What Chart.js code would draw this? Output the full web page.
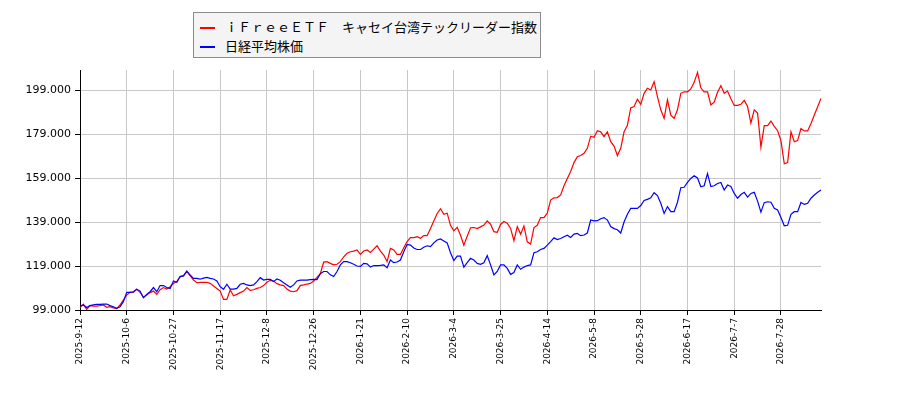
<!DOCTYPE html>
<html>
<head>
<meta charset="utf-8">
<script src="https://cdn.jsdelivr.net/npm/chart.js@4"></script>
<style>
  body { margin: 0; background: #fff; }
  #wrap { position: relative; width: 900px; height: 400px; }
  #legend {
    position: absolute; left: 193px; top: 12px; width: 346px; height: 44px;
    border: 1px solid #8c8c8c; background: #f4f4f4;
    font-family: "Noto Sans CJK JP", sans-serif; font-size: 13px; color: #000;
  }
  .row { position: absolute; left: 6px; height: 18px; line-height: 18px; white-space: nowrap; }
  .row .swatch { display: inline-block; width: 15px; border-top: 2px solid; vertical-align: middle; margin-right: 10px; }
</style>
</head>
<body>
<div id="wrap">
  <canvas id="chart" width="900" height="400"></canvas>
  <div id="legend"></div>
</div>
<script>
// Series names
const seriesNames = ['ｉＦｒｅｅＥＴＦ　キャセイ台湾テックリーダー指数', '日経平均株価'];

// First trading day and market holidays (categories are trading days)
const startDate = '2025-09-12';
const holidays = ['2025-09-15', '2025-09-23', '2025-10-13', '2025-11-03', '2025-11-24',
  '2025-12-31', '2026-01-01', '2026-01-02', '2026-01-12', '2026-02-11', '2026-02-23',
  '2026-03-20', '2026-04-29', '2026-05-04', '2026-05-05', '2026-05-06', '2026-07-20', '2026-08-11'];

// Dates that carry a tick label
const tickDates = ['2025-9-12', '2025-10-6', '2025-10-27', '2025-11-17', '2025-12-8', '2025-12-26',
  '2026-1-21', '2026-2-10', '2026-3-4', '2026-3-25', '2026-4-14', '2026-5-8', '2026-5-28',
  '2026-6-17', '2026-7-7', '2026-7-28'];

// Y axis ticks
const yTicks = [99, 119, 139, 159, 179, 199];

// iFreeETF series
const etfValues = [
  100.1, 101.6, 99.3, 101, 100.8, 100.8, 101, 101.3, 100.2, 100.5,
  100, 99.6, 101.3, 103.5, 105.8, 107, 107, 108.4, 107, 104.8,
  105.8, 106.9, 107.6, 106.1, 108.2, 109.2, 108.5, 109.6, 111.1, 111.9,
  114.2, 114.6, 116.4, 114.6, 112.6, 111.4, 111.6, 111.6, 111.6, 111.1,
  109.9, 108.8, 107.6, 103.8, 103.8, 108.1, 105.5, 106.1, 106.9, 107.6,
  109.2, 107.9, 108.2, 108.8, 109.2, 110.1, 111.6, 112.5, 112.2, 111,
  110.4, 110.1, 108.5, 107.6, 107.3, 107.8, 110.1, 110.4, 110.8, 111.1,
  112.2, 113.8, 115.5, 120.8, 121, 120.2, 119.5, 119.8, 121, 123.2,
  124.8, 125.5, 125.8, 126.3, 124.3, 125.8, 126.3, 125.2, 126.7, 128.2,
  125.8, 124, 121, 127, 126.3, 124.3, 124.3, 127.3, 130.1, 131.9,
  131.9, 132.3, 131.6, 132.8, 132.8, 136.1, 139.5, 142.9, 145, 142.5,
  143, 137.5, 135, 136.6, 133, 128.5, 132.5, 136.4, 136.5, 136,
  136.8, 137.6, 139.5, 138, 134.6, 134.3, 137.9, 139.2, 138.5, 136.1,
  130.5, 136.9, 133.5, 137.2, 130, 129, 136.5, 137.5, 141, 141,
  143, 149, 150, 150.1, 151.3, 155.5, 158.8, 162, 166, 168.7,
  169.2, 170.2, 172.5, 178, 177.5, 180.5, 180, 177.8, 180, 175.5,
  173.5, 169.2, 172.5, 180, 183, 190.9, 191.5, 194.8, 192.5, 197.5,
  199.8, 199, 202.8, 196, 190, 186.1, 194.5, 187.6, 186.1, 190,
  197.5, 198.2, 198.2, 199.5, 202.5, 207, 200, 198.2, 198.2, 192.2,
  193.5, 198, 201, 197.5, 198.5, 195, 192, 192, 192.5, 194.3,
  191.5, 184, 190, 188.5, 173, 182.8, 182.8, 184.9, 182.5, 180.5,
  176, 165.5, 166, 180, 175.5, 176, 181.5, 180.4, 180.4, 183.8,
  187.6, 191.4, 195.2
];

// Nikkei 225 series
const nikkeiValues = [
  100.8, 101.3, 100.1, 101, 101.3, 101.6, 101.6, 101.7, 101.7, 101,
  100.5, 99.8, 100.5, 102.8, 107, 107, 107.3, 108.5, 107.6, 104.6,
  106.1, 107.3, 109.2, 107.3, 110.1, 110.1, 109.2, 108.8, 112.2, 111.6,
  114.2, 114.5, 116.7, 114.9, 113.4, 113.4, 113, 113.5, 113.8, 113.4,
  113.1, 112.2, 109.6, 108.4, 110.7, 108.5, 108.5, 108.8, 110.7, 111.1,
  110.4, 110.1, 110.4, 111.9, 113.7, 112.6, 112.9, 112.9, 111.9, 113.1,
  112.5, 111.4, 110.4, 109.3, 110.4, 112.2, 112.6, 112.6, 112.6, 112.8,
  112.9, 112.8, 115.5, 116.5, 116.5, 115, 114.2, 116.5, 119.5, 121,
  121, 120.5, 119.8, 119, 118.8, 120.2, 120, 118.5, 119.2, 119.2,
  119.3, 119.5, 118.2, 121.7, 120.5, 120.8, 121.7, 125.5, 128.8, 128.5,
  127.2, 126.5, 126.5, 127.5, 128.2, 127.8, 129.5, 130.8, 131.3, 130.4,
  129.5, 125, 121.5, 123.5, 123.5, 118.5, 120.5, 122.5, 121.7, 120.2,
  119.8, 120.5, 123.7, 119.5, 115, 116.5, 119.5, 119.5, 117.9, 115.2,
  116, 119.5, 117.5, 118.5, 119.2, 119.5, 125, 125.5, 126.5, 127,
  128.5, 130.1, 131.8, 131, 131.5, 132.3, 133, 132, 133.5, 133.8,
  132.8, 133.1, 134, 139.9, 139.5, 139.6, 140.5, 141, 139.9, 136.9,
  136, 135.5, 134, 139, 142.5, 145.2, 145.2, 145.2, 146.5, 148.8,
  149.3, 150, 152.3, 151, 147.5, 142.9, 146, 143.7, 143.7, 148,
  154.6, 154.8, 157, 158.8, 160, 159, 155, 155.5, 161, 155.1,
  155.5, 156.5, 157, 153.5, 155.8, 155.2, 152, 149.8, 151.5, 152.5,
  150.3, 152, 152.5, 148.5, 143.5, 147.8, 148.2, 148, 145.2, 144.5,
  141, 137.3, 137.5, 142.5, 143.7, 143.7, 147.9, 147, 147.5, 149.8,
  151.3, 152.5, 153.5
];

const seriesColors = ['#ff0000', '#0000ff'];

// Build trading-day labels (weekdays minus holidays)
function pad(n) {
  return n < 10 ? '0' + n : '' + n;
}

function buildDates(count) {
  const out = [];
  const d = new Date(startDate + 'T00:00:00');
  while (out.length < count) {
    const key = d.getFullYear() + '-' + pad(d.getMonth() + 1) + '-' + pad(d.getDate());
    const wd = d.getDay();
    if (wd !== 0 && wd !== 6 && !holidays.includes(key)) {
      out.push(d.getFullYear() + '-' + (d.getMonth() + 1) + '-' + d.getDate());
    }
    d.setDate(d.getDate() + 1);
  }
  return out;
}

const dates = buildDates(etfValues.length);

// Legend box
const legendEl = document.getElementById('legend');
seriesNames.forEach((name, i) => {
  const row = document.createElement('div');
  row.className = 'row';
  row.style.top = (i === 0 ? 5 : 24) + 'px';
  row.innerHTML = `<span class="swatch" style="border-color:${seriesColors[i]}"></span>${name}`;
  legendEl.appendChild(row);
});

const ctx = document.getElementById('chart').getContext('2d');
new Chart(ctx, {
  type: 'line',
  data: {
    labels: dates,
    datasets: [
      {
        label: seriesNames[0],
        data: etfValues,
        borderColor: seriesColors[0],
        borderWidth: 1.2,
        pointRadius: 0,
        tension: 0,
        order: 1
      },
      {
        label: seriesNames[1],
        data: nikkeiValues,
        borderColor: seriesColors[1],
        borderWidth: 1.2,
        pointRadius: 0,
        tension: 0,
        order: 0
      }
    ]
  },
  options: {
    responsive: false,
    animation: false,
    devicePixelRatio: 1,
    layout: { padding: { top: 70, right: 79, left: 0, bottom: 0 } },
    plugins: {
      legend: { display: false },
      tooltip: { enabled: false }
    },
    scales: {
      x: {
        type: 'category',
        offset: false,
        afterBuildTicks: scale => {
          scale.ticks = scale.ticks.filter(t => tickDates.includes(dates[t.value]));
        },
        afterFit: scale => { scale.height = 90; },
        grid: { color: '#c8c8c8', tickColor: '#000', tickLength: 5, lineWidth: 1 },
        border: { color: '#000', width: 1 },
        ticks: {
          autoSkip: false,
          maxRotation: 90,
          minRotation: 90,
          padding: 3,
          color: '#000',
          font: { family: 'DejaVu Sans', size: 9 },
          callback: function (value) { return dates[value]; }
        }
      },
      y: {
        min: 99,
        max: 208.1,
        afterBuildTicks: scale => {
          scale.ticks = yTicks.map(v => ({ value: v }));
        },
        afterFit: scale => { scale.width = 80; },
        grid: { color: '#c8c8c8', tickColor: '#000', tickLength: 5, lineWidth: 1 },
        border: { color: '#000', width: 1 },
        ticks: {
          padding: 4,
          color: '#000',
          font: { family: 'DejaVu Sans', size: 11 },
          callback: value => value.toFixed(3)
        }
      }
    }
  }
});
</script>
</body>
</html>
